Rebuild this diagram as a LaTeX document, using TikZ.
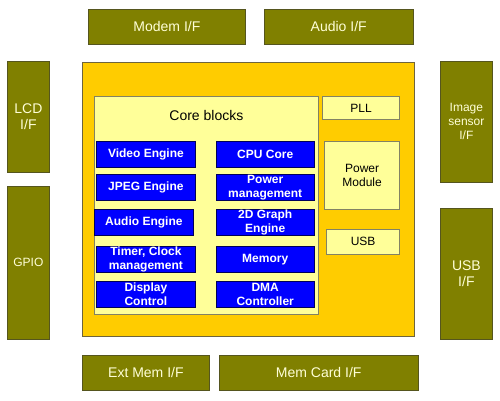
\documentclass[tikz,border=0pt]{standalone}
\usepackage{fontspec}
\setmainfont{Liberation Sans}
\usepackage{tikz}
\usetikzlibrary{positioning}

\definecolor{ifolive}{RGB}{128,128,0}
\definecolor{ifedge}{RGB}{85,85,30}
\definecolor{iftext}{RGB}{255,255,215}
\definecolor{chipfill}{RGB}{255,204,0}
\definecolor{chipedge}{RGB}{110,100,60}
\definecolor{unitfill}{RGB}{255,255,153}
\definecolor{unitedge}{RGB}{130,130,100}
\definecolor{blockfill}{RGB}{0,0,255}
\definecolor{blockedge}{RGB}{0,0,90}

\begin{document}
\begin{tikzpicture}[x=1pt, y=1pt, line width=0.8pt,
    iface/.style={draw=ifedge, fill=ifolive, text=iftext, font=\fontsize{14}{16}\selectfont,
                  inner sep=0pt, align=center},
    sideface/.style={iface, minimum width=42pt},
    chip/.style={draw=chipedge, fill=chipfill, inner sep=0pt},
    unit/.style={draw=unitedge, fill=unitfill, font=\fontsize{12}{14}\selectfont,
                 inner sep=0pt, align=center},
    block/.style={draw=blockedge, fill=blockfill, text=white, font=\bfseries\fontsize{12}{14}\selectfont,
                  inner sep=0pt, align=center, minimum width=99pt, minimum height=26pt}]

  \useasboundingbox (0,0) rectangle (500,400);

  % Chip and core area
  \node[chip, minimum width=332pt, minimum height=274pt, anchor=north west] (chip) at (82,338) {};
  \node[unit, minimum width=224pt, minimum height=218pt, anchor=north west] (corebox) at (94,304) {};
  \node[font=\fontsize{14}{16}\selectfont, inner sep=0pt, below=14pt of corebox.north] (coretitle) {Core blocks};

  % Core blocks, left column
  \node[block, anchor=north west] (video) at (96,259) {Video Engine};
  \node[block, below=6pt of video] (jpeg) {JPEG Engine};
  \node[block, below=8pt of jpeg, xshift=-2pt] (audioeng) {Audio Engine};
  \node[block, below=11pt of audioeng, xshift=2pt] (timer) {Timer, Clock\\management};
  \node[block, below=8pt of timer] (display) {Display\\Control};

  % Core blocks, right column
  \node[block, right=20pt of video, minimum width=98pt] (cpu) {CPU Core};
  \node[block, below=6pt of cpu, minimum width=98pt] (pwrmgmt) {Power\\management};
  \node[block, below=8pt of pwrmgmt, minimum width=98pt] (graph) {2D Graph\\Engine};
  \node[block, below=11pt of graph, minimum width=98pt] (memory) {Memory};
  \node[block, below=8pt of memory, minimum width=98pt] (dma) {DMA\\Controller};

  % Other on-chip units
  \node[unit, minimum width=77pt, minimum height=23pt, anchor=north east] (pll) at (400,304) {PLL};
  \node[unit, minimum width=75pt, minimum height=68pt, below=21pt of pll.south east, anchor=north east] (pwrmod) {Power\\Module};
  \node[unit, minimum width=73pt, minimum height=25pt, below=19pt of pwrmod.south east, anchor=north east] (usb) {USB};

  % Interfaces, top and bottom
  \node[iface, minimum width=157pt, minimum height=35pt, anchor=north west] (modemif) at (88,391) {Modem I/F};
  \node[iface, minimum width=149pt, minimum height=35pt, right=18pt of modemif] (audioif) {Audio I/F};
  \node[iface, minimum width=127pt, minimum height=35pt, anchor=north west] (extmemif) at (82,45) {Ext Mem I/F};
  \node[iface, minimum width=199pt, minimum height=35pt, right=9pt of extmemif] (memcardif) {Mem Card I/F};

  % Interfaces, left and right
  \node[sideface, minimum height=111pt, anchor=north west] (lcdif) at (7,339) {LCD\\I/F};
  \node[sideface, minimum height=153pt, below=13pt of lcdif, font=\fontsize{12}{14}\selectfont] (gpio) {GPIO};
  \node[sideface, minimum width=52pt, minimum height=121pt, anchor=north west,
        font=\fontsize{12}{14}\selectfont] (imgif) at (440,339) {Image\\sensor\\I/F};
  \node[sideface, minimum width=52pt, minimum height=131pt, below=25pt of imgif] (usbif) {USB\\I/F};

\end{tikzpicture}
\end{document}
